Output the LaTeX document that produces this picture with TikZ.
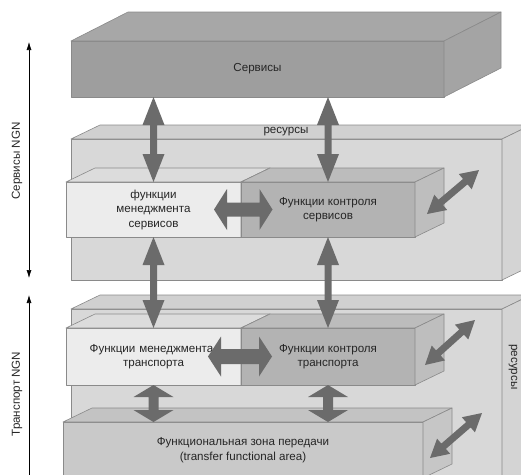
\documentclass[tikz,border=0pt]{standalone}
\usepackage{fontspec}
\setmainfont{Liberation Sans}
\usetikzlibrary{calc,arrows.meta}
\definecolor{arrowc}{HTML}{6B6B6B}
\definecolor{edgec}{HTML}{8A8A8A}
\definecolor{srvF}{HTML}{9E9E9E}\definecolor{srvT}{HTML}{A7A7A7}\definecolor{srvR}{HTML}{A4A4A4}
\definecolor{bigF}{HTML}{D8D8D8}\definecolor{bigT}{HTML}{D0D0D0}\definecolor{bigR}{HTML}{D4D4D4}
\definecolor{mgF}{HTML}{ECECEC}\definecolor{mgT}{HTML}{DCDCDC}\definecolor{mgR}{HTML}{E0E0E0}
\definecolor{ctF}{HTML}{B3B3B3}\definecolor{ctT}{HTML}{BCBCBC}\definecolor{ctR}{HTML}{BEBEBE}
\definecolor{fzF}{HTML}{C9C9C9}\definecolor{fzT}{HTML}{C3C3C3}\definecolor{fzR}{HTML}{C6C6C6}
\tikzset{
  face/.style={draw=edgec, line width=0.6pt, line join=round},
  frontbox/.style={face, inner sep=0pt, outer sep=0pt, anchor=north west, align=center,
     font=\fontsize{11.6}{14.5}\selectfont, text=black!85},
  lbl/.style={font=\fontsize{11.6}{14.5}\selectfont, text=black!85, inner sep=0pt},
  axis/.style={line width=0.6pt, black, {Latex[length=8pt,width=5pt]}-{Latex[length=8pt,width=5pt]}},
}
% #1 name, #2 dx, #3 dy, #4 top colour, #5 right colour
\newcommand{\cubefaces}[5]{%
  \filldraw[face, fill=#4] (#1.north west) -- ++(#2,#3) -- ($(#1.north east)+(#2,#3)$) -- (#1.north east) -- cycle;
  \filldraw[face, fill=#5] (#1.north east) -- ++(#2,#3) -- ($(#1.south east)+(#2,#3)$) -- (#1.south east) -- cycle;
}
% block double arrow: #1 start, #2 end, #3 shaft half, #4 head half, #5 head length
\newcommand{\dblarrow}[5]{%
  \fill[arrowc] let \p1=(#1), \p2=(#2), \n1={atan2(\y2-\y1,\x2-\x1)}, \n2={veclen(\x2-\x1,\y2-\y1)} in
   [shift={(\p1)}, rotate=\n1] (0,0) -- (#5,#4) -- (#5,#3) -- (\n2-#5,#3) -- (\n2-#5,#4) -- (\n2,0)
   -- (\n2-#5,-#4) -- (\n2-#5,-#3) -- (#5,-#3) -- (#5,-#4) -- cycle;
}
\begin{document}
\begin{tikzpicture}[x=1pt,y=-1pt]
\path[use as bounding box] (0,0) rectangle (521,474);
\clip (0,0) rectangle (521,474);

% big background boxes
\node[frontbox, fill=bigF, minimum width=431pt, minimum height=141pt] (bigS) at (71,139) {};
\cubefaces{bigS}{29}{-14}{bigT}{bigR}
\node[frontbox, fill=bigF, minimum width=431pt, minimum height=190pt] (bigT) at (71,309) {};
\cubefaces{bigT}{29}{-14}{bigT}{bigR}
\node[lbl] (resS) at (286,132) {ресурсы};
\node[lbl, rotate=-90] (resT) at (513,367) {ресурсы};

% top services box
\node[frontbox, fill=srvF, minimum width=373pt, minimum height=56pt] (srv) at (71,41) {Сервисы};
\cubefaces{srv}{57}{-29}{srvT}{srvR}

% functional area
\node[frontbox, fill=fzF, minimum width=360pt, minimum height=56pt] (fza) at (63,422)
  {Функциональная зона передачи\\(transfer functional area)};
\cubefaces{fza}{29}{-14}{fzT}{fzR}

% service functions
\node[frontbox, fill=mgF, minimum width=175pt, minimum height=55pt] (msv) at (66,182)
  {функции\\менеджмента\\сервисов};
\cubefaces{msv}{29}{-14}{mgT}{mgR}
\node[frontbox, fill=ctF, minimum width=174pt, minimum height=55pt] (csv) at (241,182)
  {Функции контроля\\сервисов};
\cubefaces{csv}{29}{-14}{ctT}{ctR}

% transport functions
\node[frontbox, fill=mgF, minimum width=175pt, minimum height=57pt, text width=175pt] (mtr) at (66,328)
  {\hspace*{-4pt}Функции менеджмента\\транспорта};
\cubefaces{mtr}{29}{-14}{mgT}{mgR}
\node[frontbox, fill=ctF, minimum width=174pt, minimum height=57pt] (ctr) at (241,328)
  {Функции контроля\\транспорта};
\cubefaces{ctr}{29}{-14}{ctT}{ctR}

% connector end points
\coordinate (h1a) at ($(msv.east)+(-27,0)$);
\coordinate (h1b) at ($(msv.east)+(31.5,0)$);
\coordinate (h2a) at ($(mtr.east)+(-33,0)$);
\coordinate (h2b) at ($(mtr.east)+(31,0)$);
\coordinate (d1a) at (427,214);
\coordinate (d1b) at (479,170);
\coordinate (d2a) at (425,365);
\coordinate (d2b) at (475,320);
\coordinate (d3a) at (430,458);
\coordinate (d3b) at (482,413);

% arrows
\dblarrow{srv.south -| msv.north}{msv.north}{3.5}{11}{28}
\dblarrow{srv.south -| csv.north}{csv.north}{3.5}{11}{28}
\dblarrow{msv.south}{mtr.north}{3.5}{11}{28}
\dblarrow{csv.south}{ctr.north}{3.5}{11}{28}
\dblarrow{h1a}{h1b}{7}{20.5}{13}
\dblarrow{h2a}{h2b}{7.5}{20}{13}
\dblarrow{mtr.south}{mtr.south |- fza.north}{5}{20}{12}
\dblarrow{ctr.south}{ctr.south |- fza.north}{5}{20}{12}
\dblarrow{d1a}{d1b}{3.5}{10}{18}
\dblarrow{d2a}{d2b}{3.5}{10}{18}
\dblarrow{d3a}{d3b}{3.5}{10}{18}

% side axes
\coordinate (s1) at (29,42);
\coordinate (s2) at (29,278);
\coordinate (t1) at (29,295);
\coordinate (t2) at (29,484);
\draw[axis] (s1) -- (s2);
\draw[axis] (t1) -- (t2);
\node[lbl, rotate=90] (axS) at (17,161) {Сервисы NGN};
\node[lbl, rotate=90] (axT) at (17,394) {Транспорт NGN};
\end{tikzpicture}
\end{document}
